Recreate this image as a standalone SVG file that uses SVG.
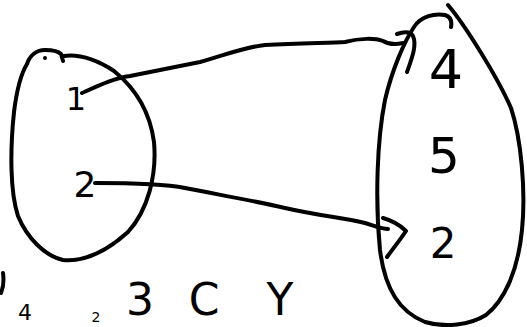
<svg xmlns="http://www.w3.org/2000/svg" width="527" height="327" viewBox="0 0 527 327">
<style>
.ink{fill:none;stroke:#000;stroke-width:4;stroke-linecap:round;stroke-linejoin:round}
.lbl{font-family:"DejaVu Sans","Liberation Sans",sans-serif;fill:#000;text-anchor:middle}
</style>
<rect width="527" height="327" fill="#fff"/>
<g id="set-left">
<path class="ink" d="M27,64 C30,55 37,50 45,50 C52,50 58,51 61,54 L63,61 M64,56 C80,54 97,60 114,71 C135,88 150,112 154,142 C157,175 148,210 128,232 C108,250 85,262 63,260 C45,256 27,238 18,216 C10,192 10,150 14,112 C17,88 22,72 27,64"/>
<circle cx="45" cy="58" r="2" fill="#000"/>
<text class="lbl" x="76" y="110" font-size="32">1</text>
<text class="lbl" x="85" y="197" font-size="36">2</text>
</g>
<g id="set-right">
<path class="ink" d="M448,5 C465,25 498,78 511,108 C521,138 526,190 522,230 C518,270 505,300 486,315 C470,325 445,328 425,322 C400,312 385,290 380,250 C375,200 377,140 385,100 C392,70 404,42 414,27 C421,16 435,13 445,15 C451,17 452,22 451,27"/>
<text class="lbl" x="446" y="88" font-size="54">4</text>
<text class="lbl" x="444" y="173" font-size="50">5</text>
<text class="lbl" x="443" y="258" font-size="42">2</text>
</g>
<g id="connectors">
<path class="ink" d="M82,93 C100,85 115,78 130,76 C160,70 180,66 200,62 C225,55 245,47 265,45 C300,43 330,43 345,42 C360,38 375,38 383,41 C388,44 395,45 403,43"/>
<path class="ink" d="M397,34 C403,32 410,31 413,36 C417,45 412,58 407,72"/>
<path class="ink" d="M95,183 C130,183 165,184 185,188 C220,195 250,200 285,208 C320,216 345,218 365,223 C375,226 382,229 388,229"/>
<path class="ink" d="M383,218 C390,220 400,225 406,231 C400,240 392,250 387,257"/>
</g>
<g id="bottom-text">
<path class="ink" d="M3,273 C4,280 3,288 1,293"/>
<text class="lbl" x="25" y="320" font-size="22">4</text>
<text class="lbl" x="96" y="322" font-size="14">2</text>
<text class="lbl" x="140" y="315" font-size="44">3</text>
<text class="lbl" x="204" y="315" font-size="44">C</text>
<text class="lbl" x="280" y="315" font-size="44">Y</text>
</g>
</svg>
